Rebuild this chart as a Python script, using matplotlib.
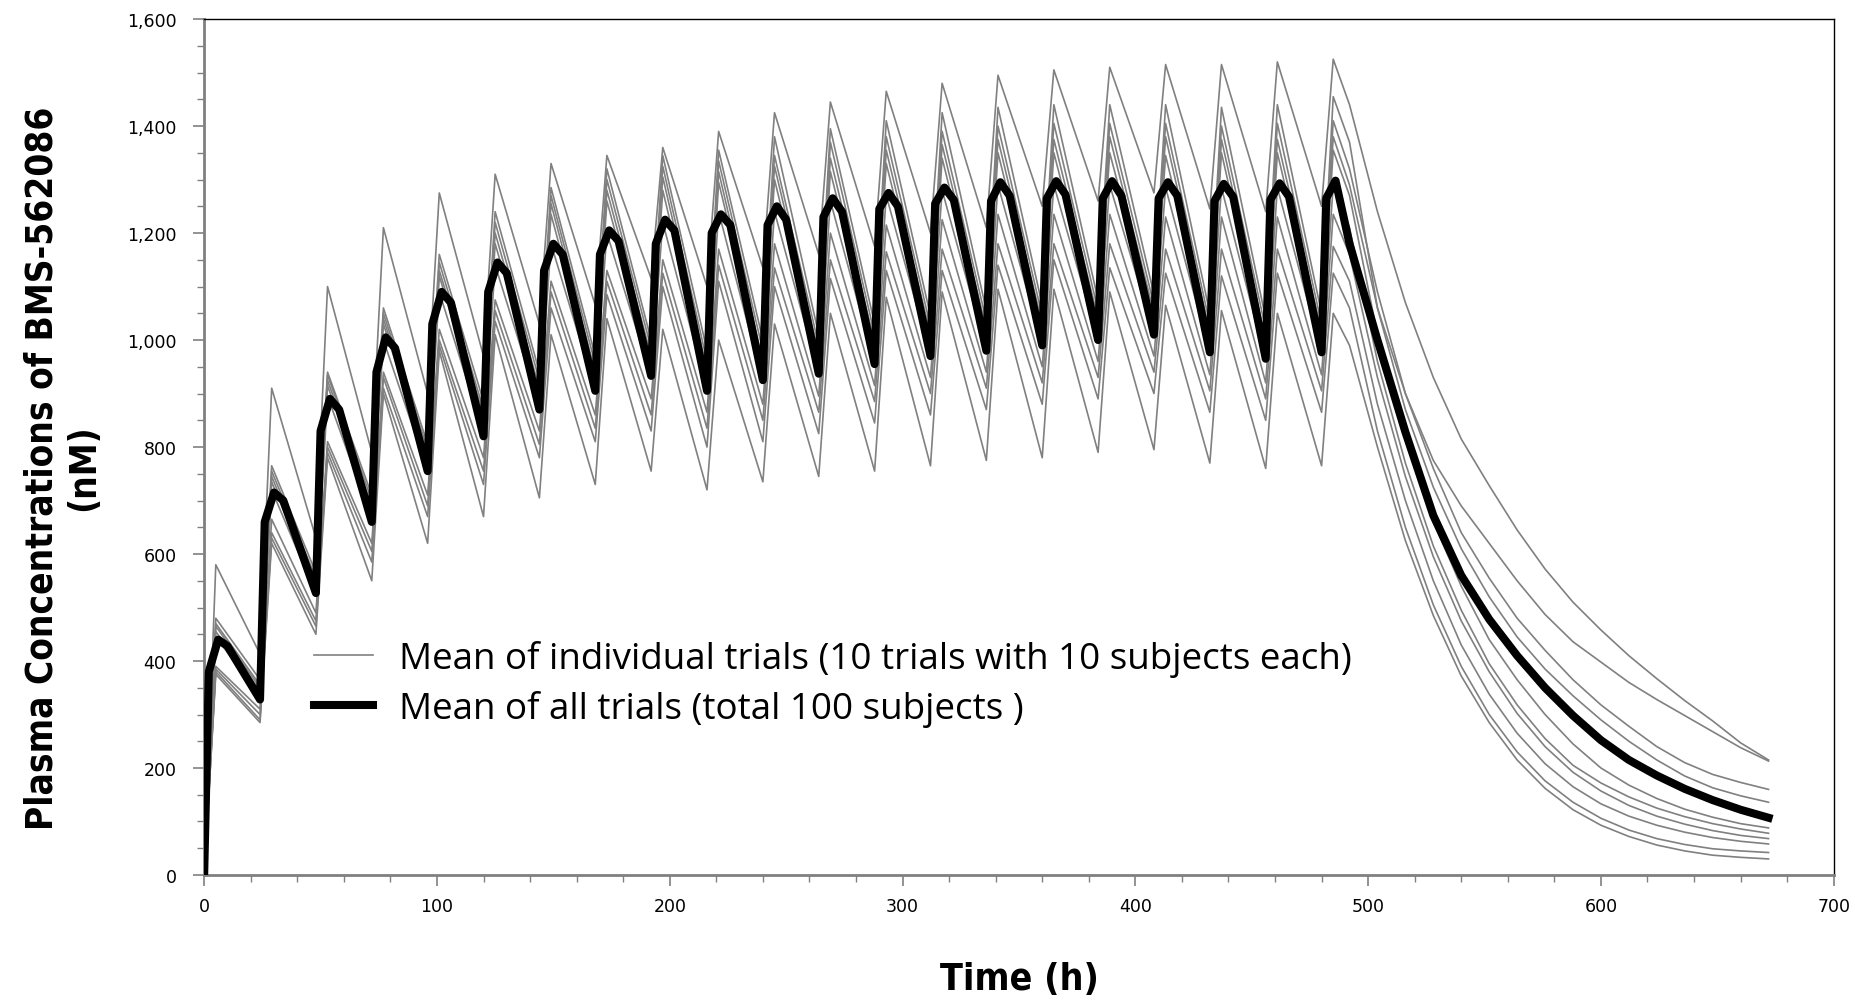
import numpy as np
import matplotlib.pyplot as plt
from matplotlib.ticker import MultipleLocator, StrMethodFormatter
from matplotlib.lines import Line2D

# dosing schedule: one dose every 24 h (21 doses), then washout to 672 h
n_doses = 21
decay_times = [492, 504, 516, 528, 540, 552, 564, 576, 588, 600, 612, 624, 636, 648, 660, 672]

# mean of all trials (black) - per dose: 2 h, 6 h (peak), 10 h, then pre-dose trough
mean_rise = [380, 660, 830, 940, 1030, 1090, 1130, 1160, 1180, 1200, 1215,
             1230, 1245, 1255, 1260, 1265, 1265, 1265, 1260, 1262, 1265]
mean_peak = [440, 715, 890, 1005, 1090, 1145, 1180, 1205, 1225, 1235, 1250,
             1265, 1275, 1285, 1295, 1297, 1297, 1295, 1292, 1293, 1298]
mean_kink = [428, 700, 870, 985, 1070, 1125, 1160, 1185, 1205, 1215, 1225,
             1240, 1250, 1262, 1270, 1272, 1270, 1270, 1268, 1268]
mean_trough = [328, 527, 660, 755, 820, 870, 905, 933, 905, 925,
               937, 955, 970, 980, 990, 1000, 1010, 977, 965, 977]
mean_decay = [1180, 1000, 828, 672, 560, 478, 410, 350, 298, 252, 215, 186, 161, 140, 122, 107]

# 10 individual trial means: peak after each dose (rows = doses, cols = trials)
trial_peak = [
    [580, 480, 470, 465, 455, 445, 390, 385, 380, 375],
    [910, 765, 755, 745, 735, 720, 665, 640, 630, 620],
    [1100, 940, 935, 925, 915, 895, 810, 800, 790, 780],
    [1210, 1060, 1050, 1040, 1030, 1000, 940, 930, 910, 900],
    [1275, 1160, 1145, 1130, 1120, 1090, 1020, 1000, 990, 980],
    [1310, 1240, 1220, 1200, 1180, 1140, 1075, 1055, 1035, 1010],
    [1330, 1285, 1270, 1255, 1235, 1180, 1110, 1090, 1060, 1010],
    [1345, 1320, 1300, 1280, 1260, 1200, 1130, 1110, 1085, 1040],
    [1360, 1345, 1325, 1305, 1280, 1220, 1150, 1125, 1100, 1020],
    [1390, 1355, 1335, 1315, 1295, 1240, 1170, 1140, 1110, 1000],
    [1425, 1380, 1345, 1325, 1300, 1240, 1180, 1135, 1100, 1030],
    [1445, 1395, 1370, 1340, 1315, 1260, 1200, 1150, 1115, 1050],
    [1465, 1410, 1380, 1355, 1330, 1270, 1215, 1165, 1130, 1080],
    [1480, 1425, 1390, 1365, 1340, 1280, 1225, 1170, 1130, 1090],
    [1495, 1435, 1400, 1375, 1350, 1290, 1235, 1180, 1140, 1095],
    [1505, 1440, 1405, 1375, 1350, 1290, 1235, 1180, 1150, 1095],
    [1510, 1440, 1405, 1380, 1350, 1290, 1235, 1180, 1135, 1090],
    [1515, 1440, 1405, 1380, 1345, 1285, 1230, 1170, 1125, 1065],
    [1515, 1435, 1400, 1375, 1350, 1285, 1230, 1170, 1120, 1055],
    [1520, 1440, 1405, 1375, 1350, 1285, 1230, 1170, 1125, 1050],
    [1525, 1455, 1410, 1380, 1355, 1290, 1235, 1175, 1125, 1050],
]
# pre-dose troughs at 24, 48, ... 480 h
trial_trough = [
    [413, 365, 355, 350, 345, 335, 310, 300, 290, 285],
    [630, 565, 555, 545, 535, 525, 490, 475, 465, 450],
    [790, 710, 700, 690, 680, 665, 620, 605, 585, 550],
    [900, 805, 795, 785, 770, 755, 710, 690, 670, 620],
    [970, 885, 870, 860, 845, 825, 780, 755, 730, 670],
    [1030, 940, 925, 910, 895, 875, 830, 805, 780, 705],
    [1065, 970, 955, 940, 925, 905, 860, 835, 810, 730],
    [1115, 1000, 985, 970, 955, 930, 890, 860, 830, 755],
    [1100, 980, 960, 945, 930, 905, 865, 835, 800, 720],
    [1135, 1000, 980, 960, 950, 920, 880, 850, 810, 735],
    [1160, 1010, 990, 975, 960, 935, 895, 865, 825, 745],
    [1175, 1030, 1010, 995, 980, 955, 915, 885, 845, 755],
    [1200, 1045, 1025, 1010, 995, 970, 930, 900, 860, 765],
    [1210, 1055, 1035, 1020, 1005, 980, 940, 910, 870, 775],
    [1250, 1065, 1045, 1030, 1015, 990, 950, 920, 880, 780],
    [1260, 1075, 1055, 1040, 1025, 1000, 960, 930, 890, 790],
    [1275, 1085, 1065, 1050, 1035, 1010, 970, 940, 900, 795],
    [1245, 1050, 1030, 1015, 1000, 975, 935, 905, 865, 770],
    [1240, 1040, 1020, 1000, 985, 960, 920, 890, 850, 760],
    [1250, 1050, 1030, 1015, 1000, 975, 935, 905, 865, 765],
]
# washout after the last dose (one row per trial)
trial_decay = [
    [1440, 1240, 1070, 930, 815, 728, 645, 572, 510, 458, 410, 367, 326, 288, 247, 215],
    [1370, 1060, 900, 775, 690, 620, 550, 487, 436, 398, 360, 328, 298, 268, 238, 213],
    [1320, 1090, 900, 760, 640, 555, 480, 420, 365, 318, 278, 240, 210, 188, 173, 160],
    [1290, 1060, 870, 725, 610, 520, 445, 385, 335, 290, 250, 215, 185, 163, 148, 136],
    [1270, 1010, 815, 660, 540, 440, 365, 300, 245, 200, 168, 143, 123, 108, 96, 88],
    [1210, 960, 770, 615, 495, 395, 318, 255, 205, 172, 146, 125, 109, 96, 86, 78],
    [1160, 930, 745, 595, 475, 380, 302, 240, 192, 157, 130, 110, 95, 83, 74, 68],
    [1110, 880, 700, 550, 430, 338, 265, 208, 165, 133, 110, 93, 80, 70, 63, 58],
    [1060, 830, 650, 505, 390, 300, 230, 176, 136, 106, 84, 68, 57, 49, 45, 42],
    [990, 800, 625, 485, 372, 285, 215, 162, 122, 93, 72, 56, 45, 37, 33, 30],
]

legend_labels = ['Mean of individual trials (10 trials with 10 subjects each)',
                 'Mean of all trials (total 100 subjects )']

gray = '#808080'

fig = plt.figure(figsize=(18.56, 10.04), dpi=100)
ax = fig.add_axes([0.110, 0.1275, 0.878, 0.8525])

# individual trial curves
for j in range(10):
    t = [0]
    c = [0]
    for k in range(n_doses):
        t.append(24 * k + 5)
        c.append(trial_peak[k][j])
        if k < n_doses - 1:
            t.append(24 * (k + 1))
            c.append(trial_trough[k][j])
    t += decay_times
    c += trial_decay[j]
    ax.plot(t, c, color=gray, lw=1.2, zorder=2)

# overall mean curve
t = [0]
c = [0]
for k in range(n_doses):
    t += [24 * k + 2, 24 * k + 6]
    c += [mean_rise[k], mean_peak[k]]
    if k < n_doses - 1:
        t += [24 * k + 10, 24 * (k + 1)]
        c += [mean_kink[k], mean_trough[k]]
t += decay_times
c += mean_decay
ax.plot(t, c, color='black', lw=5.8, solid_joinstyle='round', zorder=3)

ax.set_xlim(0, 700)
ax.set_ylim(0, 1600)
ax.xaxis.set_major_locator(MultipleLocator(100))
ax.xaxis.set_minor_locator(MultipleLocator(20))
ax.yaxis.set_major_locator(MultipleLocator(200))
ax.yaxis.set_minor_locator(MultipleLocator(50))
ax.yaxis.set_major_formatter(StrMethodFormatter('{x:,.0f}'))

for s in ['left', 'bottom']:
    ax.spines[s].set_color(gray)
    ax.spines[s].set_linewidth(2)
for s in ['top', 'right']:
    ax.spines[s].set_color('black')
    ax.spines[s].set_linewidth(1)

ax.tick_params(which='major', direction='out', length=8, width=1.2, color=gray,
               labelsize=12.5, labelcolor='black')
ax.tick_params(which='minor', direction='out', length=5, width=1.0, color=gray)
ax.tick_params(axis='y', which='major', pad=12)
ax.tick_params(axis='x', which='major', pad=8)

handles = [Line2D([0], [0], color=gray, lw=1.2),
           Line2D([0], [0], color='black', lw=5.8)]
ax.legend(handles, legend_labels, loc='center left', bbox_to_anchor=(0.0675, 0.224),
          frameon=False, borderpad=0, borderaxespad=0, handlelength=1.6,
          handletextpad=0.7, labelspacing=0.36,
          prop={'family': 'Open Sans', 'size': 26.5})

fig.text(0.034, 0.534, 'Plasma Concentrations of BMS-562086\n(nM)', rotation=90,
         ha='center', va='center', multialignment='center', linespacing=1.15,
         family='DejaVu Sans', stretch='condensed', weight='bold', fontsize=26.5)
fig.text(0.549, 0.024, 'Time (h)', ha='center', va='center',
         family='DejaVu Sans', stretch='condensed', weight='bold', fontsize=27)

fig.savefig('out.png', dpi=100)
